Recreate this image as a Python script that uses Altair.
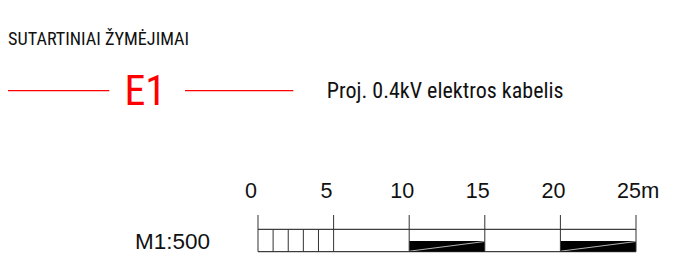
import altair as alt
import pandas as pd

# ---- data ----
title_text = ["SUTARTINIAI ŽYMĖJIMAI"]
symbol_text = ["E1"]
symbol_desc = ["Proj. 0.4kV elektros kabelis"]
scale_text = ["M1:500"]
major_ticks = [0, 5, 10, 15, 20, 25]
major_labels = ["0", "5", "10", "15", "20", "25"]
minor_ticks = [1, 2, 3, 4]
bar_start = [0]
bar_end = [25]
fill_start = [10, 20]
fill_end = [15, 25]
unit_pos = [25]
unit_text = ["m"]

W, H = 659, 250
NARROW = "Roboto Condensed"
SANS = "Liberation Sans"

xscale = alt.Scale(domain=[-16.534, 27.05], nice=False, zero=False)
X = lambda f: alt.X(f, type="quantitative", scale=xscale, axis=None)

def txt(val):
    return alt.Chart(pd.DataFrame({"t": val}))

title = txt(title_text).mark_text(
    align="left", baseline="alphabetic", font=NARROW, fontSize=18.2, color="#111"
).encode(text="t:N", x=alt.value(0), y=alt.value(36.8))

red_l = alt.Chart(pd.DataFrame({"a": [0]})).mark_rule(color="#ff0000", strokeWidth=1.2).encode(
    x=alt.value(0), x2=alt.value(101.3), y=alt.value(82.7))
red_r = alt.Chart(pd.DataFrame({"a": [0]})).mark_rule(color="#ff0000", strokeWidth=1.2).encode(
    x=alt.value(177), x2=alt.value(285.3), y=alt.value(82.7))

e1 = txt(symbol_text).mark_text(
    align="center", baseline="alphabetic", font=NARROW, fontSize=42, color="#ff0000"
).encode(text="t:N", x=alt.value(137.2), y=alt.value(97))

desc = txt(symbol_desc).mark_text(
    align="left", baseline="alphabetic", font=NARROW, fontSize=22, color="#111"
).encode(text="t:N", x=alt.value(318.8), y=alt.value(90))

mscale = txt(scale_text).mark_text(
    align="left", baseline="alphabetic", font=SANS, fontSize=22.5, color="#111"
).encode(text="t:N", x=alt.value(127), y=alt.value(241))

df_major = pd.DataFrame({"v": major_ticks, "lab": major_labels})
major = alt.Chart(df_major).mark_rule(color="#333", strokeWidth=1).encode(
    x=X("v"), y=alt.value(207), y2=alt.value(243.7))
labels = alt.Chart(df_major).mark_text(
    align="center", baseline="alphabetic", font=SANS, fontSize=21.5, color="#111", dx=-7
).encode(x=X("v"), y=alt.value(189.7), text="lab:N")
unit = alt.Chart(pd.DataFrame({"v": unit_pos, "t": unit_text})).mark_text(
    align="left", baseline="alphabetic", font=SANS, fontSize=22, color="#111", dx=5
).encode(x=X("v"), y=alt.value(189.7), text="t:N")

minor = alt.Chart(pd.DataFrame({"v": minor_ticks})).mark_rule(color="#333", strokeWidth=1).encode(
    x=X("v"), y=alt.value(221.3), y2=alt.value(243.7))

df_bar = pd.DataFrame({"s": bar_start, "e": bar_end})
top_line = alt.Chart(df_bar).mark_rule(color="#111", strokeWidth=1).encode(
    x=X("s"), x2="e:Q", y=alt.value(221.3))
bot_line = alt.Chart(df_bar).mark_rule(color="#111", strokeWidth=1).encode(
    x=X("s"), x2="e:Q", y=alt.value(243.7))

df_fill = pd.DataFrame({"s": fill_start, "e": fill_end})
fill = alt.Chart(df_fill).mark_rect(color="#000").encode(
    x=X("s"), x2="e:Q", y=alt.value(233), y2=alt.value(243.7))
diag = alt.Chart(df_fill).mark_rule(color="#ffffff", strokeWidth=0.7).encode(
    x=X("s"), x2="e:Q", y=alt.value(243.2), y2=alt.value(233.5))

chart = alt.layer(
    title, red_l, red_r, e1, desc, mscale,
    fill, diag, top_line, bot_line, major, minor, labels, unit
).properties(
    width=W, height=H, autosize=alt.AutoSizeParams(type="none"), padding=0
).configure_view(stroke=None)

chart.save("out.html", embed_options={"renderer": "svg", "actions": False})
